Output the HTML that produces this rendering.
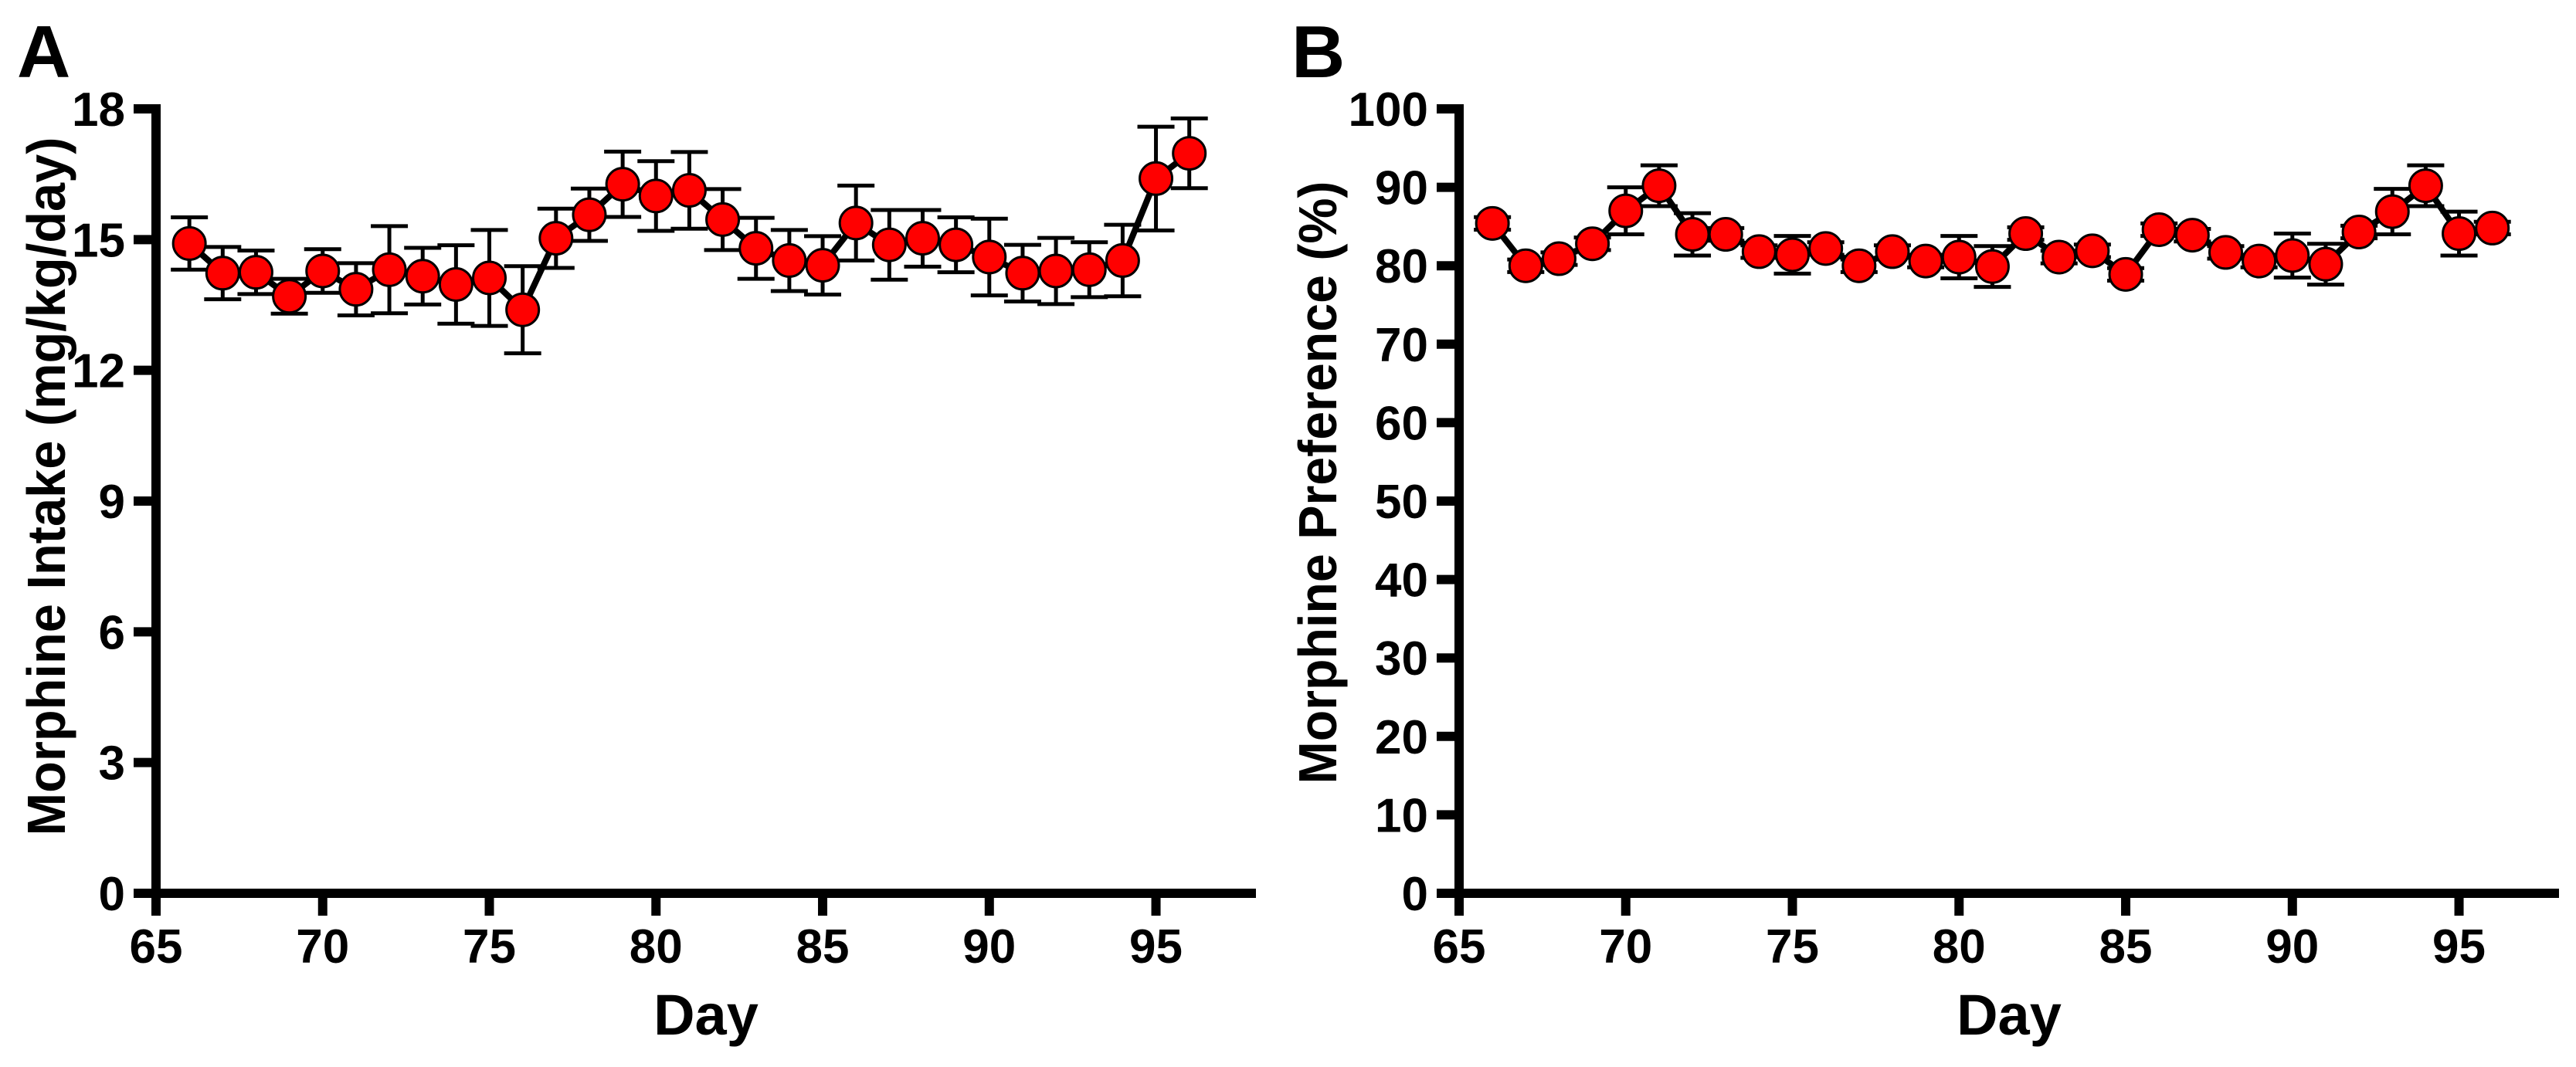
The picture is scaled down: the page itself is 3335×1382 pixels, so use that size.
<!DOCTYPE html>
<html><head><meta charset="utf-8"><style>
html,body{margin:0;padding:0;background:#fff;}
svg{display:block;}
text{font-family:"Liberation Sans Narrow","Liberation Sans",sans-serif;font-weight:bold;fill:#000;}
</style></head><body>
<svg id="fig" width="3335" height="1382" viewBox="0 0 3335 1382" xmlns="http://www.w3.org/2000/svg"></svg>
<script>
const days = [66,67,68,69,70,71,72,73,74,75,76,77,78,79,80,81,82,83,84,85,86,87,88,89,90,91,92,93,94,95,96];
const intakeMean = [14.91,14.23,14.25,13.70,14.28,13.86,14.31,14.16,13.97,14.12,13.39,15.03,15.57,16.27,16.0,16.13,15.46,14.8,14.52,14.41,15.38,14.88,15.03,14.88,14.6,14.23,14.28,14.31,14.52,16.4,16.98];
const intakeErr = [0.6,0.6,0.5,0.4,0.5,0.6,1.0,0.65,0.9,1.1,1.0,0.68,0.6,0.75,0.8,0.88,0.7,0.7,0.7,0.67,0.86,0.8,0.65,0.63,0.88,0.65,0.76,0.63,0.82,1.19,0.8];
const prefMean = [85.4,80.0,80.9,82.8,87.0,90.2,84.0,84.0,81.8,81.4,82.2,80.0,81.8,80.6,81.1,79.9,84.1,81.1,81.9,78.9,84.6,83.9,81.7,80.6,81.3,80.2,84.3,86.9,90.2,84.1,84.8];
const prefErr = [0.8,0.8,0.8,0.8,3.0,2.6,2.7,0.8,0.8,2.4,0.8,0.8,0.8,0.8,2.7,2.6,0.8,0.8,0.8,0.8,0.8,0.8,0.8,0.8,2.8,2.6,0.8,2.9,2.6,2.8,0.8];
const xTicks = [65,70,75,80,85,90,95];
const intakeTicks = [0,3,6,9,12,15,18];
const prefTicks = [0,10,20,30,40,50,60,70,80,90,100];

const NS="http://www.w3.org/2000/svg";
const svg=document.getElementById('fig');
function mk(tag,attrs,parent){const e=document.createElementNS(NS,tag);for(const k in attrs)e.setAttribute(k,attrs[k]);(parent||svg).appendChild(e);return e;}

function panel(o){
  const g=mk('g',{});
  
  
  const X=v=>o.x0+(v-65)*(o.x1-o.x0)/(98-65);
  const Y=v=>o.yb-(v/o.ymax)*(o.yb-o.yt);
  const L=mk('text',{x:o.lx,y:100,'font-size':96,'font-family':'Liberation Sans, sans-serif'},g);L.textContent=o.letter;
  
  
  const ax=mk('g',{},g);
  
  
  mk('line',{x1:o.x0,y1:o.yt-6,x2:o.x0,y2:o.yb+6,stroke:'#000','stroke-width':12},ax);
  mk('line',{x1:o.x0-6,y1:o.yb,x2:o.x1,y2:o.yb,stroke:'#000','stroke-width':12},ax);
  o.yticks.forEach(t=>{
    mk('line',{x1:o.x0-29,y1:Y(t),x2:o.x0,y2:Y(t),stroke:'#000','stroke-width':12},ax);
    const tx=mk('text',{x:o.x0-40,y:Y(t)+22,'font-size':62,'text-anchor':'end'},ax);tx.textContent=t;
    
    
  });
  xTicks.forEach(t=>{
    mk('line',{x1:X(t),y1:o.yb,x2:X(t),y2:o.yb+29,stroke:'#000','stroke-width':12},ax);
    const tx=mk('text',{x:X(t),y:1247,'font-size':62,'text-anchor':'middle'},ax);tx.textContent=t;
    
    
  });
  const xt=mk('text',{x:(o.x0+o.x1)/2,y:1340,'font-size':74,'text-anchor':'middle'},g);xt.textContent='Day';
  
  
  const yt=mk('text',{x:0,y:0,'font-size':70,'text-anchor':'middle',transform:`translate(${o.ylx},${o.ylc}) rotate(-90)`,textLength:o.ylen,lengthAdjust:'spacingAndGlyphs'},g);yt.textContent=o.ytitle;
  
  
  const eg=mk('g',{},g);
  
  
  days.forEach((d,i)=>{
    const x=X(d),hi=Y(o.mean[i]+o.err[i]),lo=Y(o.mean[i]-o.err[i]);
    mk('line',{x1:x,y1:hi,x2:x,y2:lo,stroke:'#000','stroke-width':5},eg);
    mk('line',{x1:x-24,y1:hi,x2:x+24,y2:hi,stroke:'#000','stroke-width':5},eg);
    mk('line',{x1:x-24,y1:lo,x2:x+24,y2:lo,stroke:'#000','stroke-width':5},eg);
  });
  const pts=days.map((d,i)=>X(d)+','+Y(o.mean[i])).join(' ');
  const ln=mk('polyline',{points:pts,fill:'none',stroke:'#000','stroke-width':8},g);
  
  
  days.forEach((d,i)=>{
    const c=mk('circle',{cx:X(d),cy:Y(o.mean[i]),r:21,fill:'#ff0000',stroke:'#000','stroke-width':3},g);
    
    
  });
}
panel({name:'panel-a-intake',letter:'A',lx:22,x0:202,x1:1626,yt:141,yb:1157,ymax:18,yticks:intakeTicks,mean:intakeMean,err:intakeErr,ytitle:'Morphine Intake (mg/kg/day)',ylx:84,ylc:630,ylen:905});
panel({name:'panel-b-preference',letter:'B',lx:1672,x0:1889,x1:3313,yt:141,yb:1157,ymax:100,yticks:prefTicks,mean:prefMean,err:prefErr,ytitle:'Morphine Preference (%)',ylx:1730,ylc:625,ylen:781});
</script>
</body></html>
